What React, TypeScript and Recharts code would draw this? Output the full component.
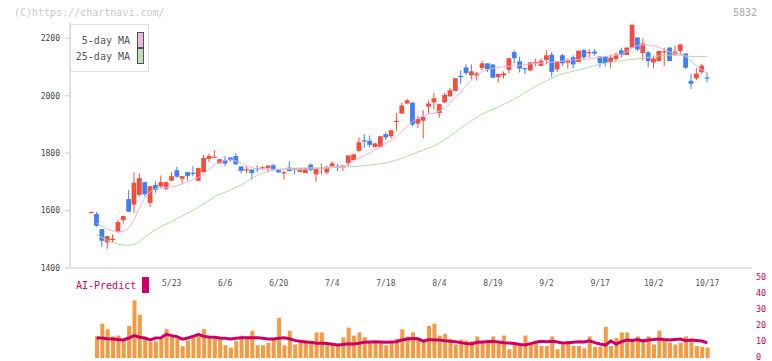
import { ComposedChart, Bar, Line, XAxis, YAxis } from 'recharts';

const MONO = '"DejaVu Sans Mono", "Liberation Mono", monospace';
const RED = '#f24e3d';
const BLUE = '#3f7ff0';
const PINK = '#cc0066';

// daily candles (price)
const OPEN = [
  1595, 1588, 1536, 1489, 1497, 1525, 1567, 1640, 1621, 1655,
  1699, 1627, 1689, 1685, 1676, 1704, 1741, 1711, 1734, 1732,
  1704, 1734, 1780, 1786, 1765, 1776, 1785, 1790, 1754, 1742,
  1743, 1748, 1749, 1749, 1758, 1741, 1732, 1750, 1747, 1735,
  1731, 1760, 1726, 1747, 1733, 1754, 1754, 1750, 1766, 1776,
  1808, 1845, 1843, 1822, 1822, 1866, 1859, 1910, 1938, 1973,
  1976, 1903, 1913, 1962, 1977, 1940, 1977, 1998, 2017, 2069,
  2099, 2071, 2070, 2097, 2113, 2109, 2065, 2071, 2090, 2152,
  2120, 2096, 2088, 2115, 2104, 2125, 2143, 2092, 2141, 2116,
  2134, 2118, 2159, 2150, 2154, 2137, 2137, 2117, 2128, 2158,
  2142, 2168, 2203, 2149, 2151, 2116, 2121, 2152, 2168, 2142,
  2156, 2147, 2052, 2061, 2082, 2064,
];
const HIGH = [
  1596, 1595, 1536, 1511, 1517, 1567, 1583, 1671, 1734, 1729,
  1701, 1687, 1702, 1722, 1701, 1734, 1752, 1720, 1734, 1755,
  1750, 1794, 1799, 1810, 1779, 1790, 1785, 1799, 1754, 1754,
  1743, 1758, 1754, 1757, 1763, 1745, 1738, 1772, 1748, 1747,
  1748, 1764, 1747, 1764, 1756, 1772, 1762, 1757, 1792, 1797,
  1855, 1866, 1862, 1836, 1860, 1873, 1880, 1940, 1976, 1989,
  1978, 1931, 1950, 1983, 2010, 1972, 2010, 2028, 2062, 2089,
  2109, 2109, 2083, 2122, 2113, 2110, 2077, 2085, 2132, 2159,
  2136, 2099, 2118, 2130, 2130, 2159, 2152, 2120, 2146, 2130,
  2141, 2158, 2164, 2163, 2163, 2137, 2137, 2144, 2151, 2168,
  2168, 2251, 2204, 2200, 2156, 2140, 2157, 2168, 2169, 2175,
  2180, 2148, 2077, 2096, 2112, 2080,
];
const LOW = [
  1594, 1544, 1474, 1467, 1489, 1523, 1555, 1596, 1592, 1650,
  1650, 1613, 1662, 1677, 1671, 1703, 1715, 1695, 1704, 1720,
  1703, 1733, 1769, 1786, 1763, 1756, 1770, 1761, 1729, 1729,
  1708, 1733, 1743, 1733, 1738, 1733, 1708, 1738, 1726, 1735,
  1731, 1737, 1701, 1726, 1726, 1754, 1738, 1738, 1752, 1776,
  1803, 1820, 1820, 1820, 1820, 1845, 1850, 1878, 1937, 1972,
  1894, 1887, 1852, 1938, 1952, 1924, 1976, 1997, 2016, 2042,
  2072, 2057, 2053, 2090, 2083, 2062, 2046, 2060, 2078, 2113,
  2081, 2076, 2085, 2102, 2102, 2109, 2065, 2083, 2104, 2095,
  2095, 2117, 2125, 2133, 2140, 2098, 2102, 2098, 2121, 2133,
  2142, 2167, 2156, 2123, 2100, 2096, 2120, 2103, 2120, 2140,
  2142, 2093, 2024, 2054, 2077, 2047,
];
const CLOSE = [
  1595, 1547, 1495, 1511, 1502, 1560, 1581, 1596, 1697, 1713,
  1657, 1685, 1672, 1699, 1699, 1720, 1718, 1720, 1720, 1730,
  1748, 1783, 1790, 1788, 1779, 1764, 1776, 1761, 1738, 1744,
  1731, 1746, 1751, 1757, 1743, 1733, 1734, 1738, 1745, 1747,
  1747, 1741, 1747, 1749, 1753, 1765, 1752, 1757, 1792, 1796,
  1838, 1843, 1829, 1834, 1859, 1855, 1880, 1913, 1966, 1984,
  1900, 1920, 1926, 1973, 1991, 1971, 2003, 2019, 2061, 2067,
  2079, 2085, 2078, 2113, 2092, 2063, 2076, 2078, 2131, 2131,
  2095, 2094, 2116, 2117, 2122, 2141, 2083, 2120, 2113, 2125,
  2109, 2157, 2134, 2152, 2147, 2114, 2114, 2133, 2144, 2142,
  2168, 2247, 2161, 2182, 2121, 2130, 2156, 2155, 2121, 2154,
  2179, 2098, 2042, 2077, 2105, 2062,
];

// moving averages as drawn
const MA5 = [
  null, 1557, 1545, 1535, 1529, 1526, 1527, 1540, 1568, 1610,
  1645, 1666, 1676, 1680, 1681, 1683, 1686, 1693, 1700, 1708,
  1716, 1728, 1744, 1760, 1768, 1775, 1777, 1773, 1764, 1756,
  1749, 1746, 1745, 1744, 1744, 1744, 1744, 1744, 1743, 1743,
  1744, 1745, 1746, 1747, 1748, 1749, 1751, 1753, 1762, 1774,
  1783, 1792, 1801, 1812, 1823, 1834, 1843, 1858, 1876, 1895,
  1911, 1923, 1930, 1935, 1940, 1947, 1956, 1975, 1995, 2013,
  2035, 2056, 2072, 2085, 2091, 2096, 2099, 2101, 2103, 2104,
  2106, 2109, 2111, 2113, 2114, 2115, 2117, 2119, 2121, 2123,
  2125, 2126, 2127, 2128, 2131, 2134, 2137, 2139, 2141, 2145,
  2154, 2167, 2176, 2177, 2177, 2175, 2169, 2160, 2152, 2148,
  2145, 2137, 2120, 2103, 2090, 2078,
];
const MA25 = [
  null, 1517, 1506, 1496, 1488, 1483, 1480, 1480, 1482, 1492,
  1508, 1521, 1533, 1544, 1553, 1562, 1572, 1581, 1592, 1601,
  1612, 1624, 1636, 1648, 1657, 1664, 1673, 1681, 1689, 1701,
  1712, 1722, 1730, 1737, 1742, 1744, 1746, 1747, 1748, 1748,
  1749, 1749, 1749, 1750, 1750, 1751, 1751, 1751, 1752, 1754,
  1755, 1756, 1759, 1761, 1763, 1765, 1771, 1776, 1782, 1790,
  1797, 1804, 1811, 1818, 1825, 1836, 1847, 1859, 1873, 1887,
  1900, 1913, 1925, 1936, 1945, 1953, 1962, 1970, 1979, 1989,
  2000, 2011, 2022, 2033, 2043, 2052, 2061, 2070, 2076, 2081,
  2085, 2090, 2095, 2100, 2105, 2110, 2114, 2117, 2120, 2122,
  2125, 2127, 2129, 2131, 2134, 2136, 2139, 2141, 2142, 2142,
  2141, 2139, 2137, 2137, 2137, 2137,
];

// lower panel
const VOLUME = [
  null,
  13.5, 21.5, 18, 13.5, 14, 11, 20, 36, 27, 13,
  10, 10.5, 12, 18, 13.5, 12, 7.5, 11, 14.5, 15,
  18, 13.5, 12, 12, 8, 6.5, 10.5, 14, 13.5, 17,
  8, 8, 9.5, 12, 25, 8, 17, 8.5, 11.5, 11,
  10.5, 16, 16, 9.5, 8.5, 8, 13, 19, 14, 16,
  13, 10.5, 9.5, 9.5, 8, 10, 12, 18, 13.5, 16,
  12, 11, 20, 21.5, 14, 15, 12, 8.5, 11.5, 11,
  10.5, 13.5, 10, 11.5, 13.5, 9, 14, 5.5, 9.5, 9.5,
  14, 9, 9,
  7.5, 7.5, 13.5, 5.5, 8.5, 10.5, 7.5, 7.5, 6, 13.5,
  7, 7, 19.5, 7.5, 12.5, 16, 16, 12, 13.5, 12,
  13.5, 8.5, 17, 11, 9.5, 8.5, 9.5, 13.5, 12, 7.5, 7, 6.5,
];
const AI_PREDICT = [
  null,
  12.5, 12.5, 12, 11.8, 11.5, 11.3, 12.5, 14, 13, 12.5,
  11.3, 12.5, 12.7, 14.8, 14, 13.3, 11.8, 12.5, 13.5, 14.8,
  13.5, 13.1, 13, 12.5, 12.3, 11.9, 12.3, 12.7, 12.7, 12.7,
  12.7, 12.3, 11.9, 11.9, 12.3, 12.7, 12, 11, 10.4, 10,
  9.8, 9.2, 9.2, 9, 8.6, 8.1, 8.5, 8.9, 8.75, 9.2,
  9.8, 10, 10.2, 10, 9.8, 10, 10.2, 11.3, 11.9, 12.2,
  12, 10.5, 11.5, 11.2, 11.2, 10.8, 10.4, 10.2, 9.6, 9,
  8.75, 9.8, 10, 10.2, 10.4, 10, 9.6, 9.4, 9, 8.5,
  8.1, 9, 9.8, 10.4, 10.2, 10.4, 10, 9.4, 9.6, 9.8,
  10.2, 10, 10.8, 9.6, 8.75, 8.1, 10.6, 8.75, 10.2, 11.25,
  11, 11.5, 10.6, 11.2, 11.5, 11.9, 11.5, 11.3, 11.6, 11.9,
  10.8, 11.2, 11, 10.6, 9.4,
];

const DATE_TICKS = [15, 25, 35, 45, 55, 65, 75, 85, 95, 105, 115];
const DATE_LABELS = ['5/23', '6/6', '6/20', '7/4', '7/18', '8/4', '8/19', '9/2', '9/17', '10/2', '10/17'];
const PRICE_TICKS = [1400, 1600, 1800, 2000, 2200];
const VOL_TICKS = [0, 10, 20, 30, 40, 50];

const X_MIN = -3.98;
const X_MAX = 123.36;
const AXIS_TICKS = Array.from({ length: 12 }, (_, k) => X_MIN + (k * (X_MAX - X_MIN)) / 11);

const data = OPEN.map((o, i) => ({
  idx: i,
  open: o,
  high: HIGH[i],
  low: LOW[i],
  close: CLOSE[i],
  range: [LOW[i], HIGH[i]],
  ma5: MA5[i],
  ma25: MA25[i],
  vol: VOLUME[i],
  ai: AI_PREDICT[i],
}));

const Candle = (props: any) => {
  const { x, y, width, height, payload } = props;
  if (!payload || height == null) return null;
  const { open, close, high, low } = payload;
  const color = close >= open ? RED : BLUE;
  const ratio = high > low ? height / (high - low) : 0;
  const yOf = (v: number) => y + (high - v) * ratio;
  const top = yOf(Math.max(open, close));
  const bot = yOf(Math.min(open, close));
  const cx = x + width / 2;
  const bw = 4.8;
  return (
    <g>
      <line x1={cx} x2={cx} y1={y} y2={y + height} stroke={color} strokeWidth={1} />
      <rect x={cx - bw / 2} y={top} width={bw} height={Math.max(1.2, bot - top)} fill={color} />
    </g>
  );
};

const AXIS_GRAY = '#d8d8d8';

export default function App() {
  return (
    <div style={{ position: 'absolute', left: 0, top: 0, width: 772, height: 361, background: '#fff', overflow: 'hidden', fontFamily: MONO }}>
      <div style={{ position: 'absolute', left: 0, top: 0 }}>
        <ComposedChart width={772} height={300} data={data} margin={{ top: 22, right: 20, bottom: 30, left: 0 }}>
          <XAxis
            xAxisId="a"
            type="number"
            dataKey="idx"
            domain={[X_MIN, X_MAX]}
            allowDataOverflow
            ticks={AXIS_TICKS}
            interval={0}
            tick={false}
            tickSize={5}
            height={1}
            stroke={AXIS_GRAY}
            strokeWidth={1.5}
          />
          <XAxis
            xAxisId="b"
            type="number"
            dataKey="idx"
            domain={[X_MIN, X_MAX]}
            allowDataOverflow
            ticks={DATE_TICKS}
            interval={0}
            tickFormatter={(v: number) => DATE_LABELS[DATE_TICKS.indexOf(v)] ?? ''}
            axisLine={false}
            tickLine={false}
            tickSize={0}
            tickMargin={11}
            height={1}
            tick={{ fontSize: 8, fill: '#555', fontFamily: MONO }}
          />
          <YAxis
            type="number"
            domain={[1400, 2257]}
            allowDataOverflow
            ticks={PRICE_TICKS}
            interval={0}
            width={70}
            tickSize={5}
            tickMargin={5}
            stroke={AXIS_GRAY}
            strokeWidth={1.5}
            tick={{ fontSize: 8, fill: '#444', fontFamily: MONO }}
          />
          <Line xAxisId="a" dataKey="ma25" stroke="#b3dba6" strokeWidth={1} dot={false} isAnimationActive={false} />
          <Line xAxisId="a" dataKey="ma5" stroke="#e8b3e8" strokeWidth={1} dot={false} isAnimationActive={false} />
          <Bar xAxisId="a" dataKey="range" barSize={5} shape={<Candle />} isAnimationActive={false} />
        </ComposedChart>
      </div>

      <div style={{ position: 'absolute', left: 0, top: 268 }}>
        <ComposedChart width={772} height={93} data={data} margin={{ top: 10, right: 0, bottom: 3, left: 70 }}>
          <XAxis type="number" dataKey="idx" domain={[X_MIN, X_MAX]} allowDataOverflow hide />
          <YAxis
            orientation="right"
            type="number"
            domain={[0, 50]}
            ticks={VOL_TICKS}
            interval={0}
            width={20}
            axisLine={false}
            tickLine={false}
            tickSize={0}
            tickMargin={4}
            tick={{ fontSize: 8.5, fill: PINK, fontFamily: MONO, dy: -1.5 }}
          />
          <Bar dataKey="vol" barSize={4} fill="#f39a45" isAnimationActive={false} />
          <Line dataKey="ai" stroke={PINK} strokeWidth={3} dot={false} isAnimationActive={false} />
        </ComposedChart>
      </div>

      <div style={{ position: 'absolute', left: 14, top: 6, fontSize: 10, lineHeight: '13px', color: '#c8c8c8' }}>
        (C)https://chartnavi.com/
      </div>
      <div style={{ position: 'absolute', right: 15, top: 6, fontSize: 10, lineHeight: '13px', color: '#aaa' }}>
        5832
      </div>

      <div style={{ position: 'absolute', left: 70, top: 24, width: 77, height: 46, border: '1px solid #ddd', background: '#fff', fontSize: 10, color: '#555' }}>
        <span style={{ position: 'absolute', right: 18, top: 9, lineHeight: '13px' }}>5-day MA</span>
        <span style={{ position: 'absolute', left: 66, top: 7, width: 5, height: 14, background: '#ebb8eb', border: '1px solid #555' }} />
        <span style={{ position: 'absolute', right: 18, top: 25, lineHeight: '13px' }}>25-day MA</span>
        <span style={{ position: 'absolute', left: 66, top: 23, width: 5, height: 14, background: '#bfe0b5', border: '1px solid #555' }} />
      </div>

      <div style={{ position: 'absolute', left: 76, top: 279, fontSize: 10, lineHeight: '14px', color: PINK }}>AI-Predict</div>
      <div style={{ position: 'absolute', left: 142, top: 277, width: 7, height: 16, background: PINK }} />
    </div>
  );
}
